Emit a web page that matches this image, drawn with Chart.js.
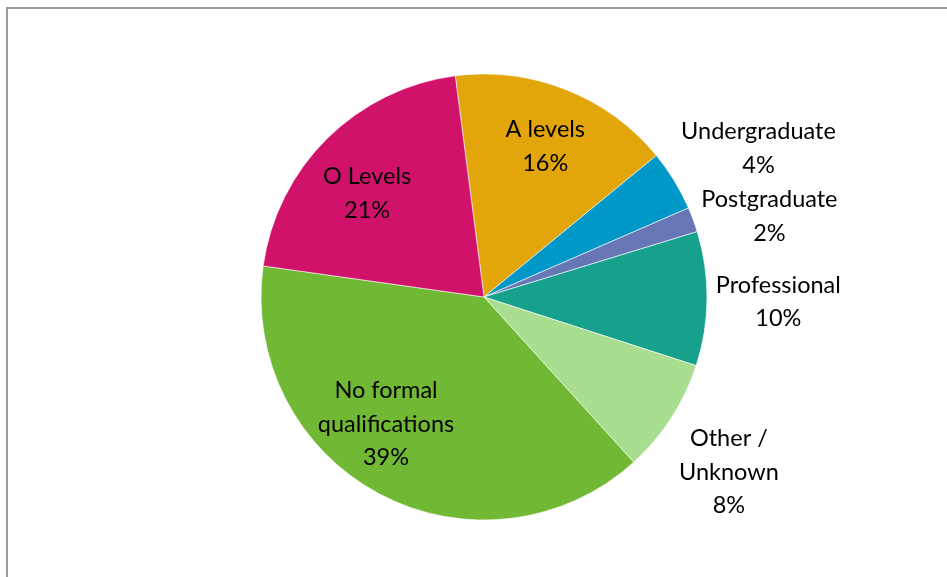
<!DOCTYPE html>
<html>
<head>
<meta charset="utf-8">
<script src="https://cdn.jsdelivr.net/npm/chart.js@4/dist/chart.umd.min.js"></script>
<style>
  html, body { margin: 0; padding: 0; background: #fff; }
  #wrap { position: relative; width: 947px; height: 577px; overflow: hidden; }
  #frame { position: absolute; left: 6px; top: 7px; width: 1000px; height: 700px;
           border-left: 2px solid #9c9c9c; border-top: 2px solid #9c9c9c; }
  canvas { position: absolute; left: 0; top: 0; }
</style>
</head>
<body>
<div id="wrap">
  <div id="frame"></div>
  <canvas id="pie" width="947" height="577"></canvas>
</div>
<script>
// Datos de la gráfica
const categories = ['A levels', 'Undergraduate', 'Postgraduate', 'Professional', 'Other / Unknown', 'No formal qualifications', 'O Levels'];
const values = [16.1, 4.4, 1.8, 9.7, 8.3, 38.9, 20.7];
const percentLabels = ['16%', '4%', '2%', '10%', '8%', '39%', '21%'];

// Etiquetas en varias líneas (como en el original)
const labelLines = [
    ['A levels'],
    ['Undergraduate'],
    ['Postgraduate'],
    ['Professional'],
    ['Other /', 'Unknown'],
    ['No formal', 'qualifications'],
    ['O Levels']
];

const colors = ['#e2a50a', '#0099c7', '#6776b5', '#17a08c', '#a9dd8f', '#71b935', '#d1126b'];

// distancia (fracción del radio) y desplazamiento angular de cada etiqueta
const labelLayout = [
    { dist: 0.73, dAng: 0.5 },
    { dist: 1.40, dAng: 3 },
    { dist: 1.33, dAng: 4.5 },
    { dist: 1.32, dAng: 0.5 },
    { dist: 1.35, dAng: 2.7 },
    { dist: 0.72, dAng: 9.7 },
    { dist: 0.70, dAng: -3.8 }
];

const labelPlugin = {
    id: 'sliceLabels',
    afterDatasetsDraw(chart) {
        const ctx = chart.ctx;
        const meta = chart.getDatasetMeta(0);
        ctx.save();
        ctx.font = '23.5px Lato, "Open Sans", sans-serif';
        ctx.fillStyle = '#000';
        ctx.textAlign = 'center';
        ctx.textBaseline = 'middle';
        const lineH = 33.5;
        meta.data.forEach(function (arc, i) {
            const p = arc.getProps(['x', 'y', 'startAngle', 'endAngle', 'outerRadius'], true);
            const lay = labelLayout[i];
            const mid = (p.startAngle + p.endAngle) / 2 + lay.dAng * Math.PI / 180;
            const d = p.outerRadius * lay.dist;
            const cx = p.x + Math.cos(mid) * d;
            const cy = p.y + Math.sin(mid) * d;
            const lines = labelLines[i].concat([percentLabels[i]]);
            const y0 = cy - (lines.length - 1) * lineH / 2;
            lines.forEach(function (t, j) {
                ctx.fillText(t, cx, y0 + j * lineH);
            });
        });
        ctx.restore();
    }
};

const ctx = document.getElementById('pie').getContext('2d');
new Chart(ctx, {
    type: 'pie',
    data: {
        labels: categories,
        datasets: [{
            data: values,
            backgroundColor: colors,
            borderColor: '#ffffff',
            borderWidth: 0.6
        }]
    },
    options: {
        responsive: false,
        animation: false,
        rotation: -7.4,
        radius: 223,
        layout: { padding: { left: 200, right: 179, top: 74, bottom: 57 } },
        plugins: {
            legend: { display: false },
            tooltip: { enabled: false }
        }
    },
    plugins: [labelPlugin]
});
</script>
</body>
</html>
